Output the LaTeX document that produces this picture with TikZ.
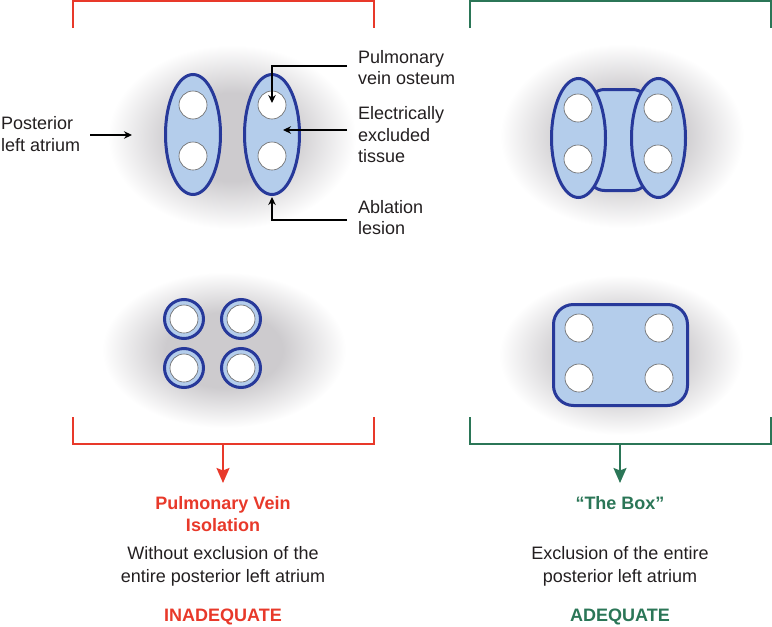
\documentclass[tikz,border=0pt]{standalone}
\usepackage{fontspec}
\setmainfont{Liberation Sans}
\usetikzlibrary{arrows.meta,shapes.geometric}
\definecolor{lablue}{RGB}{180,205,235}
\definecolor{navy}{RGB}{39,57,154}
\definecolor{bred}{RGB}{232,57,42}
\definecolor{bgreen}{RGB}{43,118,87}
\definecolor{txt}{RGB}{35,31,32}
\definecolor{shadowgray}{RGB}{205,203,206}
\definecolor{ringgray}{RGB}{100,100,100}
\pgfdeclareradialshading{softshadow}{\pgfpoint{0bp}{0bp}}{color(0bp)=(shadowgray);color(12bp)=(shadowgray);color(25bp)=(white);color(50bp)=(white)}
\tikzset{
  lbl/.style={font=\fontsize{18}{21.5}\selectfont, text=txt, inner sep=0pt, align=left, anchor=west},
  ctext/.style={font=\fontsize{18}{22.5}\selectfont, text=txt, inner sep=0pt, align=center},
  btext/.style={font=\fontsize{18}{22}\selectfont\bfseries, inner sep=0pt, align=center},
  lobe/.style={ellipse, draw=navy, fill=lablue, line width=3pt, inner sep=0pt, minimum width=55pt, minimum height=120pt},
  ostium/.style={circle, draw=ringgray, fill=white, line width=0.6pt, inner sep=0pt, minimum size=28pt},
  ring/.style={circle, draw=navy, fill=lablue, line width=3pt, inner sep=0pt, minimum size=39pt},
  pointer/.style={draw=black, line width=1.2pt, -{Stealth[length=8pt,width=7.5pt]}},
  bracketr/.style={draw=bred, line width=2pt},
  bracketg/.style={draw=bgreen, line width=2pt},
  bigarrow/.style={line width=2pt, -{Stealth[length=15pt,width=13pt,inset=2.5pt]}},
}
\begin{document}
\begin{tikzpicture}[x=1pt,y=-1pt]
\useasboundingbox (0,0) rectangle (772,627);

% shadows
\shade[shading=softshadow] (232,137) ellipse [x radius=124, y radius=92];
\shade[shading=softshadow] (622,136) ellipse [x radius=122, y radius=92];
\shade[shading=softshadow] (224,350) ellipse [x radius=122, y radius=78];
\shade[shading=softshadow] (621,355) ellipse [x radius=122, y radius=80];

% top brackets
\draw[bracketr] (73,28) -- (73,1) -- (374,1) -- (374,28);
\draw[bracketg] (470,28) -- (470,1) -- (771,1) -- (771,28);

% top-left: pulmonary vein isolation
\node[lobe] (le) at (193,134.5) {};
\node[lobe] (re) at (272,134.5) {};
\node[ostium] (lc1) at (193,105) {};
\node[ostium] (lc2) at (193,156) {};
\node[ostium] (rc1) at (272,105) {};
\node[ostium] (rc2) at (272,156) {};

% labels
\node[lbl] (pla) at (1,134) {Posterior\\left atrium};
\node[lbl] (pvo) at (358,67.5) {Pulmonary\\vein osteum};
\node[lbl] (eet) at (358,135) {Electrically\\excluded\\tissue};
\node[lbl] (abl) at (358,217.5) {Ablation\\lesion};

\coordinate (plaS) at (90,135);
\coordinate (plaT) at (132,135);
\coordinate (pvoS) at (347,66);
\coordinate (eetS) at (347,130);
\coordinate (eetT) at (283,130);
\coordinate (ablS) at (347,220);

\draw[pointer] (plaS) -- (plaT);
\draw[pointer] (pvoS) -| ([yshift=2pt]rc1.center);
\draw[pointer] (eetS) -- (eetT);
\draw[pointer] (ablS) -| ([yshift=-1pt]re.south);

% top-right: the box
\node[rectangle, rounded corners=16pt, draw=navy, fill=lablue, line width=3pt, inner sep=0pt,
      minimum width=60pt, minimum height=101pt] (mid) at (618.5,140) {};
\node[lobe, minimum width=54pt, minimum height=119pt] (bl) at (578.5,138) {};
\node[lobe, minimum width=54pt, minimum height=119pt] (br) at (658.5,138) {};
\node[ostium] (blc1) at (578,108) {};
\node[ostium] (blc2) at (578,159) {};
\node[ostium] (brc1) at (658,108) {};
\node[ostium] (brc2) at (658,159) {};

% bottom-left: four rings
\foreach \n/\px/\py in {a/184/319, b/241/319, c/184/368, d/241/368}{
  \node[ring] (r\n) at (\px,\py) {};
  \node[ostium] (o\n) at (\px,\py) {};
}

% bottom-right: box
\node[rectangle, rounded corners=20pt, draw=navy, fill=lablue, line width=3pt, inner sep=0pt,
      minimum width=134pt, minimum height=101pt] (box) at (620.5,355) {};
\node[ostium] (x1) at (579,328) {};
\node[ostium] (x2) at (659,328) {};
\node[ostium] (x3) at (579,378) {};
\node[ostium] (x4) at (659,378) {};

% bottom brackets
\draw[bracketr] (73,417) -- (73,444) -- (374,444) -- (374,417);
\draw[bracketg] (470,417) -- (470,444) -- (771,444) -- (771,417);
\coordinate (rmid) at (223,444);
\coordinate (gmid) at (620,444);

% bottom texts
\node[btext, text=bred] (pvi) at (223,514) {Pulmonary Vein\\Isolation};
\node[ctext] (pvid) at (223,566.5) {Without exclusion of the\\entire posterior left atrium};
\node[btext, text=bred] (inad) at (223,617) {INADEQUATE};

\node[btext, text=bgreen] (tbox) at (620,503) {“The Box”};
\node[ctext] (tboxd) at (620,566.5) {Exclusion of the entire\\posterior left atrium};
\node[btext, text=bgreen] (adeq) at (620,617) {ADEQUATE};

\coordinate (rtip) at (223,483);
\coordinate (gtip) at (620,483);
\draw[bigarrow, draw=bred, fill=bred] (rmid) -- (rtip);
\draw[bigarrow, draw=bgreen, fill=bgreen] (gmid) -- (gtip);
\end{tikzpicture}
\end{document}
